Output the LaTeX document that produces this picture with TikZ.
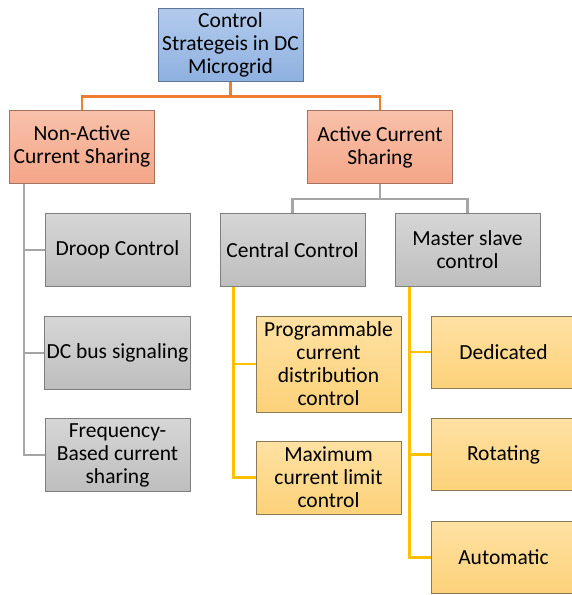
\documentclass[tikz,border=0pt]{standalone}
\usepackage{fontspec}
\setmainfont{Carlito}
\usepackage{tikz}
\usetikzlibrary{positioning,calc}
\definecolor{rootfillA}{HTML}{B3CBEC}
\definecolor{rootfillB}{HTML}{8EB1E0}
\definecolor{rootedge}{HTML}{5D7696}
\definecolor{catfillA}{HTML}{F8C1AA}
\definecolor{catfillB}{HTML}{F4A688}
\definecolor{catedge}{HTML}{A8735E}
\definecolor{grayfillA}{HTML}{D6D6D6}
\definecolor{grayfillB}{HTML}{BEBEBE}
\definecolor{grayedge}{HTML}{7F7F7F}
\definecolor{leaffillA}{HTML}{FFE1A3}
\definecolor{leaffillB}{HTML}{FCD27A}
\definecolor{leafedge}{HTML}{8C7B52}
\definecolor{orangeline}{HTML}{ED7D31}
\definecolor{grayline}{HTML}{A5A5A5}
\definecolor{yellowline}{HTML}{FFC000}
\begin{document}
\begin{tikzpicture}[
    x=1pt, y=-1pt,
    line width = 1pt,
    box/.style  = { draw, align=center, inner sep=2pt,
                    font=\fontsize{21.5}{23}\selectfont,
                    minimum width=145pt, minimum height=73pt },
    rootbox/.style = { box, top color=rootfillA, bottom color=rootfillB, draw=rootedge },
    catbox/.style  = { box, top color=catfillA, bottom color=catfillB, draw=catedge },
    graybox/.style = { box, top color=grayfillA, bottom color=grayfillB, draw=grayedge },
    leafbox/.style = { box, top color=leaffillA, bottom color=leaffillB, draw=leafedge },
    orange link/.style = { draw=orangeline, line width=2.6pt },
    gray link/.style   = { draw=grayline,   line width=2.6pt },
    yellow link/.style = { draw=yellowline, line width=2.6pt }
]
\useasboundingbox (0,0) rectangle (572,595);

% top levels
\node[rootbox] (root)   at (230.5,44.5) {Control\\Strategeis in DC\\Microgrid};
\node[catbox]  (nonact) at (82,146.5)   {Non-Active\\Current Sharing};
\node[catbox]  (act)    at (380,147)    {Active Current\\Sharing};

% passive branch
\node[graybox] (droop) at (117.5,250) {Droop Control};
\node[graybox] (dcbus) at (117.5,353) {DC bus signaling};
\node[graybox] (freq)  at (117.5,455) {Frequency-\\Based current\\sharing};

% active branch
\node[graybox] (central) at (292.5,250) {Central Control};
\node[graybox] (master)  at (467.5,250) {Master slave\\control};

\node[leafbox, minimum height=96pt] (prog) at (328.5,364) {Programmable\\current\\distribution\\control};
\node[leafbox] (maxi) at (328.5,477.5) {Maximum\\current limit\\control};

\foreach \name/\txt/\y in {dedic/Dedicated/352, rotat/Rotating/454.5, autom/Automatic/557.5}
  \node[leafbox, minimum height=72pt] (\name) at (503.5,\y) {\txt};

% connectors
\draw[orange link] (root.south) -- ++(0,15) -| (nonact.north);
\draw[orange link] (root.south) -- ++(0,15) -| (act.north);

\draw[gray link] (act.south) -- ++(0,15) -| (central.north);
\draw[gray link] (act.south) -- ++(0,15) -| (master.north);

\foreach \n in {droop,dcbus,freq}
  \draw[gray link] ([xshift=-58pt]nonact.south) |- (\n.west);

\foreach \n in {prog,maxi}
  \draw[yellow link] ([xshift=14pt]central.south west) |- (\n.west);

\foreach \n in {dedic,rotat,autom}
  \draw[yellow link] ([xshift=15pt]master.south west) |- (\n.west);

\end{tikzpicture}
\end{document}
